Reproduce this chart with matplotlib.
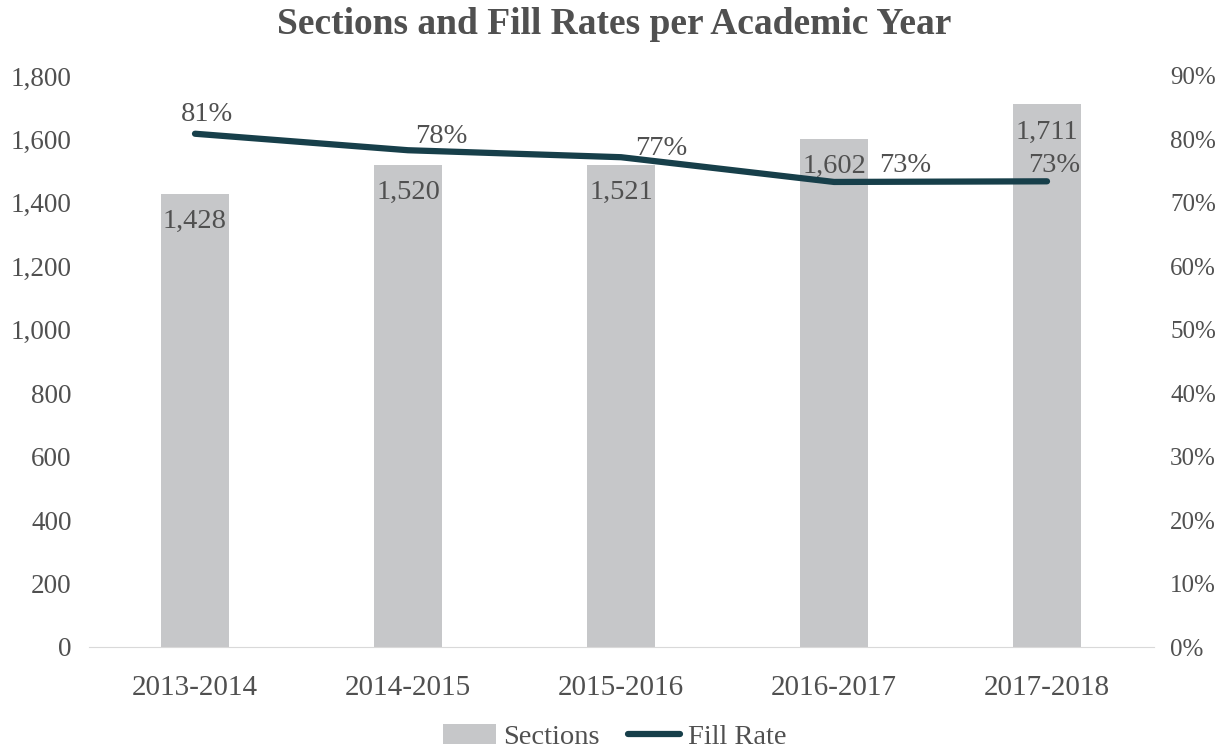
import matplotlib
matplotlib.use("Agg")
import matplotlib.pyplot as plt
from matplotlib.ticker import FuncFormatter

years = ["2013-2014", "2014-2015", "2015-2016", "2016-2017", "2017-2018"]
sections = [1428, 1520, 1521, 1602, 1711]
fill_rate = [80.9, 78.3, 77.2, 73.3, 73.4]
fill_labels = ["81%", "78%", "77%", "73%", "73%"]

TXT = "#505050"
BAR = "#C6C7C9"
LINE = "#173F4A"

plt.rcParams["font.family"] = ["Liberation Serif", "DejaVu Serif"]

fig = plt.figure(figsize=(12.29, 7.53), dpi=100)
ax = fig.add_axes([88.5/1229, 1-647/753, (1153.5-88.5)/1229, (647-76)/753])
ax2 = ax.twinx()

x = list(range(len(years)))
ax.bar(x, sections, width=0.315, color=BAR, zorder=1, label="Sections")
ax.set_ylim(0, 1800)
ax.set_xlim(-0.5, len(years)-0.5)
ax.set_yticks(range(0, 1801, 200))
ax.yaxis.set_major_formatter(FuncFormatter(lambda v, p: f"{int(v):,}"))
ax.set_xticks(x)
ax.set_xticklabels(years, fontsize=21)
ax.tick_params(axis="both", length=0, colors=TXT)
ax.tick_params(axis="y", pad=12, labelsize=19.5)
ax.tick_params(axis="x", pad=20)
for s in ["top", "left", "right"]:
    ax.spines[s].set_visible(False)
ax.spines["bottom"].set_color("#D9D9D9")

for xi, v in zip(x, sections):
    ax.annotate(f"{v:,}", (xi, v), xytext=(0, -20), textcoords="offset points",
                ha="center", va="center", fontsize=20.5, color=TXT)

ax2.plot(x, fill_rate, color=LINE, lw=4.5, solid_capstyle="round", label="Fill Rate")
ax2.set_ylim(0, 90)
ax2.set_yticks(range(0, 91, 10))
ax2.yaxis.set_major_formatter(FuncFormatter(lambda v, p: f"{int(v)}%"))
ax2.tick_params(axis="y", length=0, labelsize=18, colors=TXT, pad=12)
for s in ["top", "left", "right", "bottom"]:
    ax2.spines[s].set_visible(False)

offsets = [(8.6, 13.7), (24, 10), (29, 6.5), (51, 12), (5, 11.5)]
for xi, v, lab, off in zip(x, fill_rate, fill_labels, offsets):
    ax2.annotate(lab, (xi, v), xytext=off, textcoords="offset points",
                 ha="center", va="center", fontsize=20.5, color=TXT)

fig.suptitle("Sections and Fill Rates per Academic Year", y=1-25/753, va="center",
             fontsize=27, fontweight="bold", color=TXT)

h1, l1 = ax.get_legend_handles_labels()
h2, l2 = ax2.get_legend_handles_labels()
fig.legend(h1 + h2, l1 + l2, loc="center", bbox_to_anchor=(0.5, 1-737/753), ncol=2,
           frameon=False, fontsize=20.5, labelcolor=TXT, handlelength=1.85,
           handletextpad=0.25, columnspacing=1.0)

fig.savefig("out.png", dpi=100)
